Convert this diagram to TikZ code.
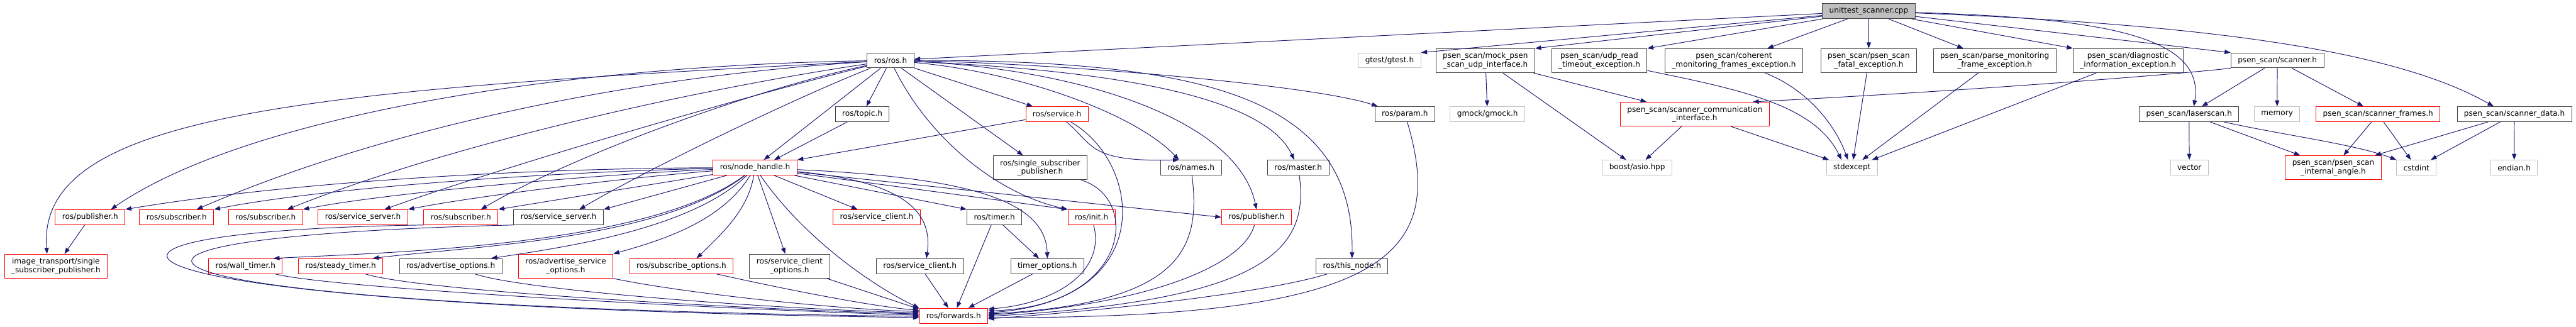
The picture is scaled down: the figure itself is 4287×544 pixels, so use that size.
\documentclass[tikz,border=0pt]{standalone}
\usepackage{fontspec}
\setmainfont{DejaVu Sans}
\usepackage{tikz}
\usetikzlibrary{arrows.meta}
\definecolor{edgeblue}{HTML}{191970}
\definecolor{boxgray}{HTML}{404040}
\definecolor{sysgray}{HTML}{BFBFBF}
\definecolor{rootfill}{HTML}{BFBFBF}
\definecolor{truncred}{HTML}{FF0000}

\begin{document}
\begin{tikzpicture}[
  x=0.75pt, y=-0.75pt,
  font=\fontsize{9.5}{10.5}\selectfont,
  hbox/.style={rectangle, line width=0.75pt, fill=white, align=center,
               minimum height=18.75pt, inner xsep=8.6pt, inner ysep=3pt},
  hdr/.style={hbox, draw=boxgray},
  trunc/.style={hbox, draw=truncred},
  sys/.style={hbox, draw=sysgray},
  root/.style={hbox, draw=boxgray, fill=rootfill},
  two/.style={minimum height=30pt},
  inc/.style={-{Triangle[length=7.5pt,width=5.5pt]}, draw=edgeblue, line width=0.75pt}
]
\useasboundingbox (0,0) rectangle (4287,544);

% ---- source file ----
\node[root] (root) at (3110,18.5) {unittest\_scanner.cpp};

% ---- direct includes ----
\node[hdr] (ros) at (1482,100.5) {ros/ros.h};
\node[sys] (gtest) at (2312.5,100.5) {gtest/gtest.h};
\node[hdr,two] (mock) at (2472,101) {psen\_scan/mock\_psen\\\_scan\_udp\_interface.h};
\node[hdr,two] (udp) at (2661.5,101) {psen\_scan/udp\_read\\\_timeout\_exception.h};
\node[hdr,two] (coherent) at (2885.5,101) {psen\_scan/coherent\\\_monitoring\_frames\_exception.h};
\node[hdr,two] (fatal) at (3110,101) {psen\_scan/psen\_scan\\\_fatal\_exception.h};
\node[hdr,two] (parse) at (3319.5,101) {psen\_scan/parse\_monitoring\\\_frame\_exception.h};
\node[hdr,two] (diag) at (3541.5,101) {psen\_scan/diagnostic\\\_information\_exception.h};
\node[hdr] (scanner) at (3790,100.5) {psen\_scan/scanner.h};

% ---- second level ----
\node[hdr] (topic) at (1435,190) {ros/topic.h};
\node[trunc] (service) at (1759,190) {ros/service.h};
\node[hdr] (param) at (2338,190) {ros/param.h};
\node[sys] (gmock) at (2475.5,190) {gmock/gmock.h};
\node[trunc,two] (comm) at (2820.5,190) {psen\_scan/scanner\_communication\\\_interface.h};
\node[hdr] (laserscan) at (3643,190) {psen\_scan/laserscan.h};
\node[sys] (memory) at (3789.5,190) {memory};
\node[trunc] (frames) at (3957.5,190) {psen\_scan/scanner\_frames.h};
\node[hdr] (data) at (4184.5,190) {psen\_scan/scanner\_data.h};

% ---- third level ----
\node[trunc] (nh) at (1256.5,279) {ros/node\_handle.h};
\node[hdr,two] (ssp) at (1731,279) {ros/single\_subscriber\\\_publisher.h};
\node[hdr] (names) at (1982,279) {ros/names.h};
\node[hdr] (master) at (2160.5,279) {ros/master.h};
\node[sys] (boost) at (2724.5,279) {boost/asio.hpp};
\node[sys] (stdexcept) at (3082,279) {stdexcept};
\node[sys] (vector) at (3643.5,279) {vector};
\node[trunc,two] (angle) at (3883,279) {psen\_scan/psen\_scan\\\_internal\_angle.h};
\node[sys] (cstdint) at (4021.5,279) {cstdint};
\node[sys] (endian) at (4184,279) {endian.h};

% ---- node handle level ----
\node[trunc] (pubL) at (150,361.5) {ros/publisher.h};
\node[trunc] (sub1) at (294,361.5) {ros/subscriber.h};
\node[trunc] (sub2) at (442,361.5) {ros/subscriber.h};
\node[trunc] (srvsrvR) at (604,361.5) {ros/service\_server.h};
\node[trunc] (sub3) at (767,361.5) {ros/subscriber.h};
\node[hdr] (srvsrvB) at (929.5,361.5) {ros/service\_server.h};
\node[trunc] (srvclR) at (1459,361.5) {ros/service\_client.h};
\node[hdr] (timer) at (1655,361.5) {ros/timer.h};
\node[trunc] (init) at (1816.5,361.5) {ros/init.h};
\node[trunc] (pubR) at (2091,361.5) {ros/publisher.h};

% ---- options level ----
\node[trunc,two] (imgtr) at (93,443) {image\_transport/single\\\_subscriber\_publisher.h};
\node[trunc] (wall) at (408.5,443) {ros/wall\_timer.h};
\node[trunc] (steady) at (567,443) {ros/steady\_timer.h};
\node[hdr] (advopt) at (750,443) {ros/advertise\_options.h};
\node[trunc,two] (advsrv) at (941.5,443) {ros/advertise\_service\\\_options.h};
\node[trunc] (subopt) at (1134,443) {ros/subscribe\_options.h};
\node[hdr,two] (srvclopt) at (1314,443) {ros/service\_client\\\_options.h};
\node[hdr] (srvclB) at (1531,443) {ros/service\_client.h};
\node[hdr] (timeropt) at (1743,443) {timer\_options.h};
\node[hdr] (thisnode) at (2250,443) {ros/this\_node.h};

% ---- bottom ----
\node[trunc] (fwd) at (1587,525.5) {ros/forwards.h};

% arrows from the source file
\draw[inc] (root) -- (ros);
\draw[inc] (root) -- (gtest.north east);
\draw[inc] (root) -- (mock.north east);
\draw[inc] (root) -- (udp.north east);
\draw[inc] (root) -- (coherent);
\draw[inc] (root) -- (fatal);
\draw[inc] (root) -- (parse);
\draw[inc] (root) -- (diag.north west);
\draw[inc] (root) -- (scanner.north west);
\draw[inc] (root) .. controls (3500,30) and (3670,60) .. ([xshift=6pt]laserscan.north);
\draw[inc] (root) .. controls (3650,40) and (3980,80) .. ([xshift=-26pt]data.north);

% arrows from ros/ros.h
\draw[inc] (ros) .. controls (500,150) and (60,190) .. ([xshift=-11pt]imgtr.north);
\draw[inc] (ros) .. controls (900,110) and (400,200) .. ([xshift=26pt]pubL.north);
\draw[inc] (ros) .. controls (1000,130) and (600,230) .. ([xshift=25pt]sub1.north);
\draw[inc] (ros) .. controls (1150,150) and (750,240) .. ([xshift=27pt]sub2.north);
\draw[inc] (ros) .. controls (1200,170) and (800,290) .. ([xshift=27pt]srvsrvR.north);
\draw[inc] (ros) .. controls (1250,150) and (950,260) .. ([xshift=25pt]sub3.north);
\draw[inc] (ros) .. controls (1330,160) and (1080,280) .. ([xshift=26pt]srvsrvB.north);
\draw[inc] (ros) -- ([xshift=11pt]nh.north);
\draw[inc] (ros) -- (topic);
\draw[inc] (ros) -- (service);
\draw[inc] (ros) -- (ssp);
\draw[inc] (ros) .. controls (1540,220) and (1650,320) .. (init.north west);
\draw[inc] (ros) .. controls (1700,120) and (1890,190) .. ([xshift=-15pt]names.north);
\draw[inc] (ros) .. controls (1800,115) and (2060,200) .. (pubR.north);
\draw[inc] (ros) .. controls (1800,115) and (2100,150) .. ([xshift=-5pt]master.north);
\draw[inc] (ros) .. controls (1750,105) and (2180,140) .. ([xshift=4pt]param.north west);
\draw[inc] (ros) .. controls (2000,100) and (2255,160) .. (thisnode.north);
\draw[inc] (topic) -- ([xshift=24pt]nh.north);
\draw[inc] (service) -- (nh.north east);
\draw[inc] (service) .. controls (1820,240) and (1810,270) .. ([xshift=-15pt]names.north);

% arrows from ros/node_handle.h
\draw[inc] (nh) .. controls (900,280) and (500,300) .. (pubL.north east);
\draw[inc] (nh) .. controls (950,285) and (550,310) .. (sub1.north east);
\draw[inc] (nh) .. controls (1000,290) and (650,320) .. (sub2.north east);
\draw[inc] (nh) .. controls (1050,295) and (800,325) .. (srvsrvR.north east);
\draw[inc] (nh) -- (sub3.north east);
\draw[inc] (nh) -- (srvsrvB.north east);
\draw[inc] (nh) -- (srvclR);
\draw[inc] (nh) -- (timer.north west);
\draw[inc] (nh) -- (init.north west);
\draw[inc] (nh) -- (pubR.west);
\draw[inc] (nh) .. controls (1480,300) and (1555,340) .. ([xshift=8pt]srvclB.north);
\draw[inc] (nh) .. controls (1600,295) and (1740,330) .. (timeropt.north);
\draw[inc] (nh) .. controls (1080,410) and (650,420) .. ([xshift=35pt]wall.north);
\draw[inc] (nh) .. controls (1100,400) and (780,410) .. ([xshift=40pt]steady.north);
\draw[inc] (nh) .. controls (1150,380) and (950,410) .. ([xshift=-14pt]advopt.north east);
\draw[inc] (nh) .. controls (1200,370) and (1100,400) .. (advsrv.north east);
\draw[inc] (nh) .. controls (1245,350) and (1200,390) .. ([xshift=19pt]subopt.north);
\draw[inc] (nh) -- (srvclopt);
\draw[inc] (nh) .. controls (1340,400) and (1460,480) .. (fwd.north west);
\draw[inc] (timer) -- (timeropt);

% arrows into ros/forwards.h
\draw[inc] (pubL) -- (imgtr);
\draw[inc] (sub3.south west) .. controls (0,385) and (100,510) .. (fwd.183);
\draw[inc] (srvsrvB.south west) .. controls (0,395) and (130,510) .. (fwd.181);
\draw[inc] (wall) .. controls (550,480) and (1200,515) .. (fwd.179);
\draw[inc] (steady) .. controls (700,485) and (1250,515) .. (fwd.177);
\draw[inc] (advopt) .. controls (880,485) and (1300,515) .. (fwd.175);
\draw[inc] (advsrv.south east) .. controls (1150,490) and (1400,515) .. (fwd.173);
\draw[inc] (subopt) .. controls (1300,480) and (1450,510) .. (fwd.171);
\draw[inc] (srvclopt) -- (fwd.169);
\draw[inc] (srvclB) -- (fwd);
\draw[inc] (timer) -- (fwd);
\draw[inc] (timeropt) -- (fwd);
\draw[inc] (init) .. controls (1840,450) and (1760,505) .. (fwd.11);
\draw[inc] (ssp) .. controls (1900,330) and (1880,510) .. (fwd.8);
\draw[inc] (service) .. controls (1900,270) and (1930,500) .. (fwd.5);
\draw[inc] (names) .. controls (2000,420) and (1960,505) .. (fwd.3);
\draw[inc] (pubR) .. controls (2070,440) and (1920,505) .. (fwd.1);
\draw[inc] (master) .. controls (2180,420) and (2100,500) .. (fwd.359);
\draw[inc] (param) .. controls (2410,430) and (2300,530) .. (fwd.357);
\draw[inc] (thisnode) .. controls (2100,490) and (1800,520) .. (fwd.355);

% arrows of the psen_scan headers
\draw[inc] (mock) -- (gmock);
\draw[inc] (mock) -- (boost);
\draw[inc] (mock) -- (comm);
\draw[inc] (comm) -- (boost);
\draw[inc] (comm) -- (stdexcept);
\draw[inc] (udp) .. controls (2900,150) and (3020,175) .. ([xshift=-13pt]stdexcept.north);
\draw[inc] (coherent) .. controls (3010,150) and (3055,210) .. ([xshift=-5pt]stdexcept.north);
\draw[inc] (fatal) -- (stdexcept);
\draw[inc] (parse) -- (stdexcept);
\draw[inc] (diag) -- (stdexcept);
\draw[inc] (scanner.south west) .. controls (3640,122) and (3300,150) .. (comm.12);
\draw[inc] (scanner) -- (laserscan);
\draw[inc] (scanner) -- (memory);
\draw[inc] (scanner) -- (frames);
\draw[inc] (laserscan) -- (vector);
\draw[inc] (laserscan) -- (angle);
\draw[inc] (laserscan) .. controls (3800,225) and (3920,240) .. (cstdint.north west);
\draw[inc] (frames) -- (angle);
\draw[inc] (frames) -- (cstdint);
\draw[inc] (data) -- (angle);
\draw[inc] (data) -- (cstdint);
\draw[inc] (data) -- (endian);
\end{tikzpicture}
\end{document}
